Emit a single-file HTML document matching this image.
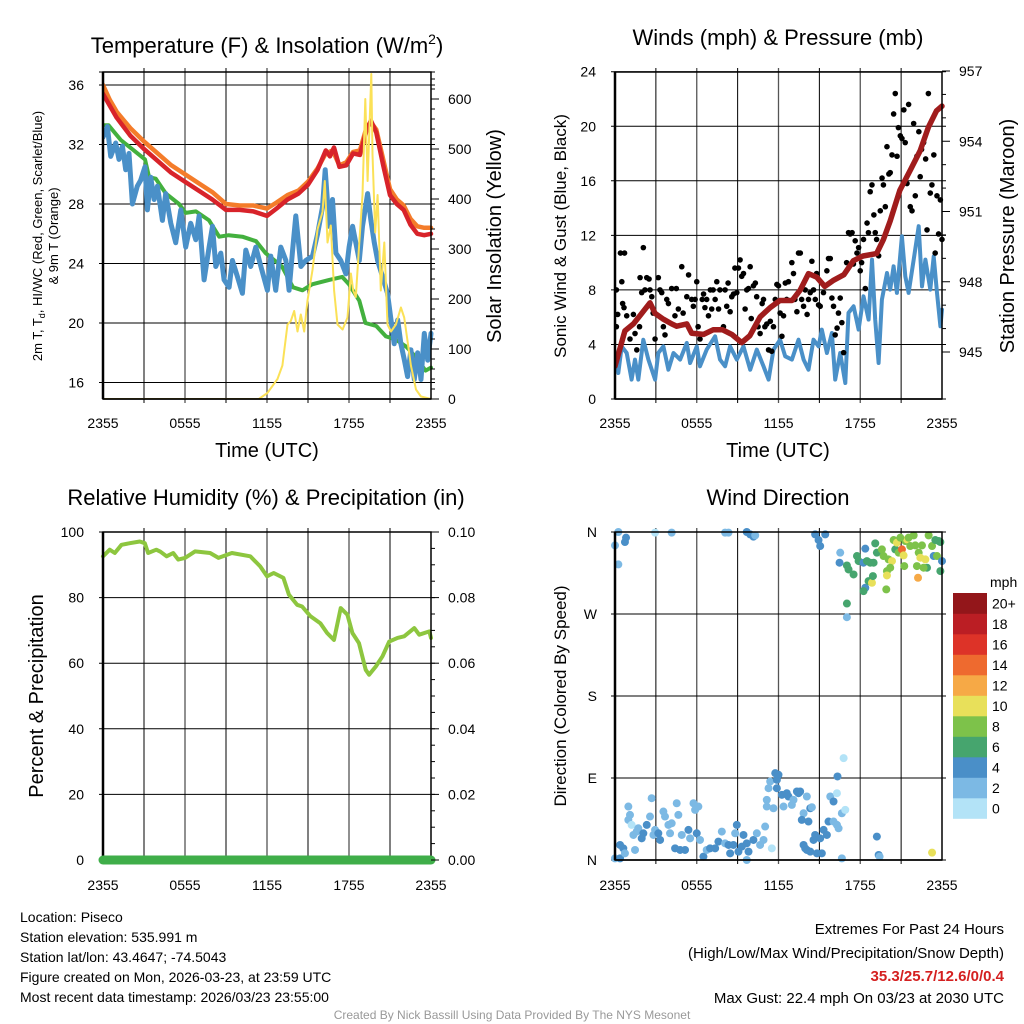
<!DOCTYPE html>
<html><head><meta charset="utf-8"><style>
html,body{margin:0;padding:0;background:#fff;}
svg{display:block;font-family:"Liberation Sans",sans-serif;}
</style></head><body>
<svg id="chart" width="1024" height="1024" viewBox="0 0 1024 1024" xmlns="http://www.w3.org/2000/svg">
<rect x="0" y="0" width="1024" height="1024" fill="#fff"/>
<text x="267" y="53" font-size="22" text-anchor="middle">Temperature (F) &amp; Insolation (W/m<tspan dy="-9" font-size="14">2</tspan><tspan dy="9">)</tspan></text>
<text x="778" y="45" font-size="22" text-anchor="middle">Winds (mph) &amp; Pressure (mb)</text>
<text x="266" y="505" font-size="22" text-anchor="middle">Relative Humidity (%) &amp; Precipitation (in)</text>
<text x="778" y="505" font-size="22" text-anchor="middle">Wind Direction</text>
<text transform="translate(42,236) rotate(-90)" font-size="13" text-anchor="middle">2m T, T<tspan font-size="9" dy="3">d</tspan><tspan dy="-3">, HI/WC (Red, Green, Scarlet/Blue)</tspan></text>
<text transform="translate(58,236) rotate(-90)" font-size="13" text-anchor="middle">&amp; 9m T (Orange)</text>
<text transform="translate(501,236) rotate(-90)" font-size="20" text-anchor="middle">Solar Insolation (Yellow)</text>
<text transform="translate(566,236) rotate(-90)" font-size="17" text-anchor="middle">Sonic Wind &amp; Gust (Blue, Black)</text>
<text transform="translate(1014,236) rotate(-90)" font-size="20" text-anchor="middle">Station Pressure (Maroon)</text>
<text transform="translate(43,696) rotate(-90)" font-size="20" text-anchor="middle">Percent &amp; Precipitation</text>
<text transform="translate(566,696) rotate(-90)" font-size="17" text-anchor="middle">Direction (Colored By Speed)</text>
<text x="267" y="457" font-size="20" text-anchor="middle">Time (UTC)</text>
<text x="778" y="457" font-size="20" text-anchor="middle">Time (UTC)</text>
<g font-size="14">
<text x="20" y="922">Location: Piseco</text>
<text x="20" y="942">Station elevation: 535.991 m</text>
<text x="20" y="962">Station lat/lon: 43.4647; -74.5043</text>
<text x="20" y="982">Figure created on Mon, 2026-03-23, at 23:59 UTC</text>
<text x="20" y="1002">Most recent data timestamp: 2026/03/23 23:55:00</text>
</g>
<g font-size="15" text-anchor="end">
<text x="1004" y="934">Extremes For Past 24 Hours</text>
<text x="1004" y="958">(High/Low/Max Wind/Precipitation/Snow Depth)</text>
<text x="1004" y="981" fill="#d42020" font-weight="bold">35.3/25.7/12.6/0/0.4</text>
<text x="1004" y="1003">Max Gust: 22.4 mph On 03/23 at 2030 UTC</text>
</g>
<text x="512" y="1019" font-size="12" fill="#999" text-anchor="middle">Created By Nick Bassill Using Data Provided By The NYS Mesonet</text>
</svg>
<script>
// ---- Temperature panel data ----
const tOrange = [0,0.5,1,2,3,4,5,6,7,8,9,10,11,12,12.7,13.5,14.3,15,15.7,16.3,16.8,17.3,17.8,18.3,18.8,19.3,19.6,20,20.5,21,21.5,22,22.5,23,23.5,24];
const vOrange = [36,35,34.2,33.1,32.2,31.4,30.6,30,29.4,28.8,28,27.9,27.9,27.7,28.1,28.6,28.9,29.5,30.4,31.4,31.6,30.6,30.8,31.5,31.6,33.2,33.5,33,31,29,28.3,27.9,27,26.5,26.4,26.4];
const tRed = [0,0.5,1,2,3,4,5,6,7,8,9,10,11,12,12.7,13.5,14.3,15,15.7,16.3,16.6,16.9,17.3,17.8,18.3,18.8,19.3,19.6,20,20.5,21,21.5,22,22.5,23,23.5,24];
const vRed = [35.4,34.6,33.8,32.6,31.7,30.9,30.1,29.5,28.9,28.3,27.6,27.6,27.5,27.2,27.7,28.3,28.7,29.3,30.3,31.6,31.2,31.8,30.5,30.6,31.4,31.3,33,33.6,32.8,30.6,28.6,28,27.6,26.6,26,25.9,26];
const tGreen = [0,0.4,1.3,3.07,3.37,3.86,4.6,5.56,6.05,6.8,7.76,8.5,9.2,10.2,11.2,11.9,13.1,13.9,14.6,15.3,16.55,17.5,18,18.75,19.2,20,20.7,21.4,22.2,22.9,23.6,24];
const vGreen = [33.3,33.3,32.3,31,29.8,29.7,28.7,28,27.4,27.5,26.9,25.8,25.9,25.8,25.5,24.7,23.8,22.4,22.2,22.6,22.9,23.1,22.6,21.5,20,19.8,19.1,18.9,18.4,17.7,16.8,17];
const tBlue = [0,0.32,0.56,0.93,1.17,1.42,1.66,1.9,2.15,2.51,2.76,3.07,3.25,3.49,3.74,3.98,4.35,4.59,4.96,5.32,5.69,6.05,6.42,6.79,7.03,7.4,7.76,8.01,8.25,8.62,8.86,9.23,9.47,9.84,10.2,10.45,10.81,11.18,11.55,12.03,12.28,12.64,13.01,13.38,13.62,13.87,14.11,14.48,14.84,15.33,15.7,16.06,16.26,16.55,16.79,17.04,17.4,17.77,18.01,18.26,18.5,18.75,18.99,19.36,19.6,19.85,20.09,20.46,20.82,21.07,21.31,21.56,21.8,22.05,22.29,22.53,22.78,23.02,23.27,23.51,23.76,24];
const vBlue = [32.5,33.2,31.2,32.1,31,31.9,30.3,31.4,28,29.2,29.6,30.5,27.6,29.8,28.3,29.2,26.9,28.7,26.7,25.4,27.6,25.1,26.7,25.6,27.2,22.9,25.1,26.5,23.8,24.7,22.9,22.4,24.2,23.1,22,24.9,23.8,25.1,23.8,22.2,24.5,22.2,25.1,24.2,22.2,24.9,27.2,23.8,24.2,24.5,26,27.8,30.3,26.5,28.3,24.7,24.2,23.3,25.1,26.5,25.4,24.2,26.5,28.7,26.9,25.4,24.2,23.1,22,20.2,18.6,20.2,18.6,17.5,16.4,18.2,16.2,18,16.2,19.3,17.5,19.3];
const tSolar = [0,11.4,12.03,12.77,13.13,13.5,13.74,13.99,14.23,14.47,14.72,14.96,15.33,15.7,16.06,16.23,16.43,16.67,16.91,17.16,17.53,17.89,18.14,18.31,18.5,18.75,18.99,19.19,19.36,19.63,19.72,19.92,20.09,20.33,20.58,20.82,21.07,21.43,21.8,22.04,22.29,22.53,22.9,23.26,24];
const vSolar = [0,0,12,40,67,149,156,176,135,169,135,197,258,340,374,436,313,347,217,149,139,163,251,217,204,313,408,600,436,650,490,333,408,217,313,149,135,149,183,163,115,67,19,5,0];
const tempTicks = [16,20,24,28,32,36];
const solarTicks = [0,100,200,300,400,500,600];
const timeTickHours = [0,6,12,18,24];
const timeTickLabels = ["2355","0555","1155","1755","2355"];
// ---- Wind panel data ----
const tPres = [0,0.73,1.35,1.96,2.57,2.94,3.55,4.16,4.53,5.27,5.63,6.5,7.2,7.9,8.57,9.3,9.9,10.65,11.4,12.1,13,13.6,14.2,14.8,15.4,16,16.8,17.5,18.2,19.2,19.7,20.2,20.9,21.7,22.4,23,23.6,24];
const vPres = [944.4,945.9,946.2,946.65,947.1,946.65,946.4,946.2,946.1,946.2,945.8,945.75,945.95,945.95,945.75,945.4,945.7,946.5,946.9,947.2,947.2,947.65,948.35,948.2,947.8,948.05,948.3,948.9,949.1,949.2,949.8,950.6,951.9,952.8,953.6,954.6,955.3,955.5];
const tWind = [0,0.24,0.49,0.86,1.22,1.47,1.71,2.08,2.45,2.94,3.18,3.55,3.92,4.29,4.78,5.27,5.51,6,6.24,6.73,7.35,7.71,8.08,8.45,8.94,9.43,9.92,10.41,10.9,11.27,11.63,12.12,12.49,12.98,13.47,13.84,14.2,14.57,14.94,15.18,15.55,15.92,16.16,16.53,16.9,17.14,17.51,17.88,18.24,18.61,18.86,19.1,19.35,19.59,19.96,20.2,20.45,20.69,21.06,21.31,21.55,21.92,22.29,22.53,22.78,23.14,23.39,23.63,23.88,24];
const vWind = [3.37,1.91,3.86,3.37,1.42,2.89,1.42,4.35,2.89,1.42,3.37,3.86,2.15,3.37,2.89,4.11,2.64,3.86,2.4,3.62,4.6,2.89,2.4,3.86,2.89,3.86,2.15,3.62,2.4,1.42,3.62,4.35,3.13,2.89,4.35,2.89,2.15,4.35,3.86,5.09,3.37,4.84,1.42,3.37,1.17,6.31,6.8,5.09,7.53,5.82,10.22,5.82,2.64,7.29,9.24,8.02,9.73,7.78,11.93,9,7.78,10.22,12.67,8.26,10.22,8.02,10.46,7.78,5.33,6.55];
const tGust = [0,0.1,0,0.2,0.1,0.4,0.7,0.5,0.56,0.66,0.86,1.1,1.35,1.47,1.6,1.8,1.84,1.96,2.08,2.2,2.33,2.5,2.57,2.7,2.8,2.94,3.18,3.3,3.43,3.55,3.67,3.8,3.92,4.16,4.4,4.5,4.65,4.9,5,5.27,5.4,5.63,5.75,5.88,6,6.1,6.24,6.4,6.5,6.6,6.73,6.86,7,7.1,7.2,7.35,7.47,7.6,7.7,7.96,8.08,8.2,8.3,8.45,8.57,8.7,8.8,8.94,9.06,9.18,9.3,9.43,9.55,9.67,9.8,9.92,10,10.16,10.3,10.4,10.5,10.65,10.8,10.9,11,11.14,11.27,11.4,11.5,11.63,11.76,11.88,12,12.12,12.25,12.37,12.5,12.6,12.73,12.98,13.1,13.2,13.35,13.47,13.6,13.7,13.84,13.96,14.1,14.2,14.33,14.45,14.57,14.7,14.8,14.94,15.06,15.3,15.55,15.67,15.8,15.92,16.04,16.16,16.3,16.4,16.53,16.65,16.78,17,17.14,17.26,17.4,17.5,17.63,17.76,17.88,18,18.1,18.24,18.37,18.5,18.6,18.73,18.86,19,19.1,19.2,19.35,19.47,19.6,19.7,19.84,19.96,20.1,20.2,20.33,20.45,20.57,20.7,20.8,20.94,21.06,21.2,21.3,21.43,21.55,21.67,21.8,21.92,22.04,22.16,22.3,22.4,22.5,22.65,22.8,22.9,23,23.14,23.26,23.4,23.5,23.63,23.75,23.88,24];
const vGust = [8,8,6.2,6.2,5.3,10.7,10.7,8.6,7,6.7,6.1,4.4,6.2,4.8,3.6,5.3,8.9,7.8,11.1,8,8.9,8.8,8,7.5,6.3,4.4,8.9,8,7.8,5.3,4.7,7.3,7,8.1,6.1,8.1,6.6,9.7,6.3,7.5,9.1,7.3,6.8,7.3,8.6,5.3,4.4,7.3,7.7,6.7,7.3,6.1,8,6.6,8,7.3,8.6,6.6,8,5.3,8,6.8,8.5,6.4,7.5,7.7,9.6,7.8,9.6,10.2,9,9.2,6.6,8,8.1,9.7,5.9,8.3,8.5,7.5,5.3,4.8,7,7.3,5.3,5.5,3.6,5.7,3.5,5.3,7.3,8.4,8.3,6.3,4.6,6.1,8.5,7.3,8.6,10,9.2,7.3,6.4,10.7,10.7,7.3,6.8,8,6.2,7.3,7.8,10.1,8,7.3,9.2,6.9,6.8,7.8,9.4,10.3,10.3,7.4,6.8,4.7,5.2,6.3,7.4,5.6,3.4,10,12.2,12.1,12.2,9.9,11.6,10.7,11.1,9.4,10,11.7,8.1,12.9,12.2,15.2,15.7,13.5,12.2,11.7,10.5,13.8,16.2,15.7,14.1,18.5,16.5,16.6,17.9,20.9,22.4,17.8,19.9,19.3,19.1,21.2,18.8,15.8,21.6,14.1,13.8,20.2,14.9,17.8,19.6,16.3,18.3,18.8,17.6,12.4,22.4,15.1,15.7,17.9,10.7,14.9,12.1,14.6,11.7];
const windTicks = [0,4,8,12,16,20,24];
const presTicks = [945,948,951,954,957];
// ---- Humidity panel data ----
const tRH = [0,0.49,0.86,1.35,1.96,2.69,3.06,3.3,3.9,4.2,4.65,5.14,5.5,6,6.73,7.84,8.45,9.43,10.78,11.5,12,12.49,13.2,13.6,14.2,14.57,15.18,15.9,16.4,16.9,17.39,17.88,18.25,18.73,19.22,19.47,19.96,20.45,20.94,21.55,22.04,22.78,23.14,23.88,24];
const vRH = [92.6,94.6,93.6,96.1,96.6,97.1,96.6,93.6,94.6,94,92.6,93.6,91.6,92.1,94.1,93.6,92.1,93.6,92.6,89.5,86.5,87.5,86,80.9,77.8,77.3,74.3,72.2,69.2,67.1,76.8,74.8,69.2,66.1,58,56.5,59,62.1,66.6,67.7,68.2,70.7,68.7,69.7,67.7];
const tPrecip = [0,24];
const vPrecip = [0,0];
const rhTicks = [0,20,40,60,80,100];
const precipTicks = ["0.00","0.02","0.04","0.06","0.08","0.10"];
// ---- Direction panel data ----
const tDir = [0.245,0,0.81,0.73,0.245,2.94,4.16,8.08,8.33,9.67,9.92,10.16,10.29,14.69,15.43,14.94,15.06,16.53,16.48,17.02,17.14,17.51,17.76,17.88,18.24,18.37,18.49,18.73,18.98,19.1,18.37,18.24,18.61,18.86,18.93,17.02,17.02,19.22,19.59,19.71,19.96,19.96,20.08,20.33,20.45,20.57,20.69,20.82,21.06,21.18,21.31,21.43,21.55,21.67,21.92,22.04,22.29,22.41,22.53,22.78,22.9,23.02,23.27,23.39,23.51,23.63,23.76,23.88,24,22.24,19.91,20.2,21.23,22.16,22.65,20.94,23.88,
0,0.37,0.37,0.61,0.73,0.98,1.1,0.98,1.22,1.35,1.47,1.59,1.71,1.96,2.08,2.33,2.57,2.69,2.82,2.94,3.18,3.31,3.55,3.67,3.92,4.04,4.16,4.53,4.65,4.41,4.78,4.9,5.14,5.39,5.51,5.76,5.88,6.12,6,6.24,6.49,6.73,6.98,7.35,7.59,7.84,8.08,8.33,8.45,8.69,8.82,8.94,9.06,9.31,9.43,9.67,9.67,9.8,10.16,10.41,10.65,10.9,11.02,11.14,11.14,11.27,11.39,11.51,11.63,11.76,11.88,12,11.88,12.25,12.37,12.61,12.73,12.98,13.1,13.35,13.47,13.59,13.84,13.71,14.08,14.2,14.33,14.45,14.57,13.84,13.96,14.08,14.33,14.69,14.82,15.06,15.18,15.31,15.55,15.67,15.8,16.04,16.04,16.29,16.41,16.65,16.78,16.29,16.9,16.33,16.65,19.22,19.35,19.42,23.27];
const vDir = [360,345.3,353.8,349,324.4,359.3,359.3,359.3,359.3,360,357.4,354.9,356.3,357.4,357.4,351.2,344.6,337.3,326.3,323.3,318.9,313.4,333.6,328.1,326.3,341.7,328.1,326.3,326.3,347.5,298.8,295.1,306.1,304.3,311.6,281.5,266.5,337.3,340.9,333.6,317.1,312.3,329.9,328.1,351.2,340.9,348.3,337.3,340.9,334.3,350.1,351.9,353.8,344.6,356.3,345.3,337.3,331.8,345.3,329.9,320.8,356.3,344.6,333.6,351.2,333.6,350.1,317.1,328.1,309.8,297,320.8,322.6,322.6,320.8,353.8,349,
1.8,1.8,16.5,12.8,7.3,58.7,49.5,44,38.5,27.5,11,31.2,34.8,23.8,29.3,38.5,47.7,67.8,27.5,33,29.3,22,53.2,47.7,38.5,29.3,40.3,62.3,49.5,12.8,11,27.5,11,33,23.8,62.3,55,58.7,29.3,22,3.7,11,12.8,12.8,20.2,31.2,18.3,16.5,7.3,16.5,29.3,38.5,9.2,14.7,27.5,0,18.3,9.2,22,29.3,16.5,22,36.7,66,58.7,78.8,86.2,12.8,56.8,95.3,88,93.5,78.8,71.5,58.7,73.3,69.7,60.5,66,75.2,73.3,75.2,51.3,44,69.7,42.2,56.8,57.9,22,16.5,12.8,11,9.2,27.5,7.3,23.8,7.3,33,27.5,42.2,69.7,64.2,42.2,38.5,34.8,51.3,111.8,73.3,55,91.7,1.8,25.7,5.5,3.7,8.1];
const sDir = [2.5,2.5,4.5,4.5,2.5,0.5,2.5,2.5,2.5,4.5,4.5,4.5,2.5,4.5,4.5,4.5,4.5,2.5,4.5,6.5,6.5,6.5,6.5,6.5,4.5,4.5,6.5,6.5,6.5,6.5,4.5,6.5,6.5,10.5,6.5,6.5,2.5,6.5,8.5,8.5,8.5,10.5,8.5,10.5,8.5,6.5,10.5,8.5,14.5,10.5,8.5,10.5,8.5,8.5,8.5,8.5,8.5,10.5,8.5,10.5,6.5,8.5,8.5,4.5,6.5,8.5,6.5,6.5,4.5,12.5,8.5,8.5,8.5,8.5,8.5,8.5,6.5,
2.5,4.5,4.5,4.5,2.5,2.5,2.5,2.5,0.5,2.5,2.5,2.5,2.5,4.5,4.5,4.5,2.5,2.5,2.5,2.5,4.5,4.5,2.5,2.5,2.5,2.5,2.5,2.5,2.5,4.5,4.5,2.5,4.5,4.5,2.5,2.5,2.5,2.5,4.5,2.5,4.5,2.5,4.5,4.5,4.5,2.5,2.5,4.5,4.5,4.5,2.5,4.5,4.5,4.5,4.5,2.5,4.5,4.5,4.5,2.5,2.5,2.5,2.5,2.5,2.5,2.5,2.5,0.5,2.5,4.5,4.5,4.5,4.5,4.5,2.5,4.5,4.5,2.5,2.5,4.5,4.5,4.5,2.5,4.5,2.5,4.5,4.5,2.5,4.5,4.5,4.5,4.5,4.5,4.5,4.5,4.5,4.5,4.5,4.5,4.5,2.5,4.5,2.5,2.5,2.5,2.5,0.5,0.5,0.5,4.5,2.5,4.5,4.5,2.5,10.5];
const dirTicks = [0,90,180,270,360];
const dirTickLabels = ["N","E","S","W","N"];
const speedBinLabels = ["0","2","4","6","8","10","12","14","16","18","20+"];
const speedColors = ["#b3e3f7","#7cb9e4","#4a8fc8","#46a56e","#7dc24a","#e8e05a","#f6a946","#ee6a2f","#dd3328","#bb1e24","#93161a"];

const NS = "http://www.w3.org/2000/svg";
const svg = document.getElementById("chart");
function mk(tag, parent, attrs) {
  const e = document.createElementNS(NS, tag);
  for (const k in attrs) e.setAttribute(k, attrs[k]);
  parent.appendChild(e);
  return e;
}
function scale(d0, d1, r0, r1) { return v => r0 + (v - d0) / (d1 - d0) * (r1 - r0); }

function panelFrame(L, R, T, B, name, hLinesY) {
  const g = mk("g", svg, {});
  
  
  const xs = scale(0, 24, L, R);
  for (let h = 3; h < 24; h += 3) {
    const x = xs(h);
    mk("line", g, {x1: x, y1: T - 4, x2: x, y2: B + 4, stroke: (h % 6 === 0) ? "#555" : "#000", "stroke-width": (h % 6 === 0) ? 1.3 : 1});
  }
  hLinesY.forEach(y => mk("line", g, {x1: L - 4, y1: y, x2: R + 4, y2: y, stroke: "#000", "stroke-width": 1}));
  return g;
}
function drawBorder(L, R, T, B, name) {
  const g = mk("g", svg, {});
  
  
  mk("rect", g, {x: L, y: T, width: R - L, height: B - T, fill: "none", stroke: "#000", "stroke-width": 1.5});
  mk("line", g, {x1: L, y1: T, x2: L, y2: B, stroke: "#000", "stroke-width": 2.5});
  mk("line", g, {x1: L, y1: B, x2: R, y2: B, stroke: "#000", "stroke-width": 1.5});
}
function timeLabels(L, R, y, name) {
  const xs = scale(0, 24, L, R);
  const g = mk("g", svg, {"font-size": 14, "text-anchor": "middle"});
  
  
  timeTickHours.forEach((h, i) => { const t = mk("text", g, {x: xs(h), y: y}); t.textContent = timeTickLabels[i]; });
}
function polyline(xs, ys, tArr, vArr, color, w, name, parent) {
  const pts = tArr.map((t, i) => xs(t).toFixed(1) + "," + ys(vArr[i]).toFixed(1)).join(" ");
  const p = mk("polyline", parent || svg, {points: pts, fill: "none", stroke: color, "stroke-width": w, "stroke-linejoin": "round", "stroke-linecap": "round"});
  
  
  return p;
}
function yLabels(arr, ys, x, anchor, name, fmt) {
  const g = mk("g", svg, {"font-size": 14, "text-anchor": anchor});
  
  
  arr.forEach((v, i) => { const t = mk("text", g, {x: x, y: ys(v) + 5}); t.textContent = fmt ? fmt(v, i) : v; });
}

// ---- Panel 1 ----
{
  const L = 103, R = 431, T = 72, B = 399;
  const xs = scale(0, 24, L, R);
  const yT = scale(16, 36, 382.5, 85);
  const yS = scale(0, 600, 399, 99);
  panelFrame(L, R, T, B, "temperature", tempTicks.map(yT).concat([T]));
  const clip = mk("clipPath", svg, {id: "c1"}); mk("rect", clip, {x: L, y: T - 3, width: R - L + 3, height: B - T + 3});
  const g = mk("g", svg, {"clip-path": "url(#c1)"});
  polyline(xs, yT, tGreen, vGreen, "#43b03e", 4, "hi-wc-line", g);
  polyline(xs, yT, tBlue, vBlue, "#4a90c8", 5, "dewpoint-line", g);
  polyline(xs, yT, tOrange, vOrange, "#f47c2a", 4.5, "temp-9m-line", g);
  polyline(xs, yT, tRed, vRed, "#d8232a", 4.5, "temp-2m-line", g);
  polyline(xs, yS, tSolar, vSolar, "#fbe157", 2, "solar-line", g);
  drawBorder(L, R, T, B, "temperature");
  const tk = mk("g", svg, {stroke: "#000"});
  
  
  for (let v = 0; v <= 650; v += 20) mk("line", tk, {x1: R, y1: yS(v), x2: R + (v % 100 === 0 ? 8 : 4), y2: yS(v)});
  yLabels(tempTicks, yT, 84, "end", "temp-y-tick-labels");
  yLabels(solarTicks, yS, 448, "start", "solar-y-tick-labels");
  timeLabels(L, R, 428, "temperature");
}
// ---- Panel 2 ----
{
  const L = 615, R = 942, T = 72, B = 399;
  const xs = scale(0, 24, L, R);
  const yW = scale(0, 24, 399, 71.7);
  const yP = scale(945, 957, 352, 71);
  panelFrame(L, R, T, B, "winds", windTicks.map(yW));
  const clip = mk("clipPath", svg, {id: "c2"}); mk("rect", clip, {x: L, y: T - 5, width: R - L + 5, height: B - T + 5});
  const g = mk("g", svg, {"clip-path": "url(#c2)"});
  polyline(xs, yW, tWind, vWind, "#4a90c8", 4, "wind-speed-line", g);
  const gg = mk("g", g, {fill: "#000"});
  
  
  tGust.forEach((t, i) => {
    const c = mk("circle", gg, {cx: xs(t), cy: yW(vGust[i]), r: 2.8});
    
    
  });
  polyline(xs, yP, tPres, vPres, "#a01c1c", 5.5, "pressure-line", g);
  drawBorder(L, R, T, B, "winds");
  const tk = mk("g", svg, {stroke: "#000"});
  
  
  for (let v = 945; v <= 957; v += 1) mk("line", tk, {x1: R, y1: yP(v), x2: R + ((v % 3 === 0) ? 8 : 4), y2: yP(v)});
  yLabels(windTicks, yW, 596, "end", "wind-y-tick-labels");
  yLabels(presTicks, yP, 959, "start", "pressure-y-tick-labels");
  timeLabels(L, R, 428, "winds");
}
// ---- Panel 3 ----
{
  const L = 103, R = 431, T = 532, B = 860;
  const xs = scale(0, 24, L, R);
  const yR = scale(0, 100, 860, 532);
  panelFrame(L, R, T, B, "humidity", rhTicks.map(yR));
  polyline(xs, yR, tRH, vRH, "#8dc63f", 4, "rh-line");
  drawBorder(L, R, T, B, "humidity");
  polyline(xs, yR, tPrecip, vPrecip, "#3fae49", 9, "precip-line");
  const tk = mk("g", svg, {stroke: "#000"});
  
  
  for (let v = 0; v <= 100; v += 5) mk("line", tk, {x1: R, y1: yR(v), x2: R + ((v % 20 === 0) ? 8 : 4), y2: yR(v)});
  yLabels(rhTicks, yR, 84, "end", "rh-y-tick-labels");
  yLabels(rhTicks, yR, 448, "start", "precip-y-tick-labels", (v, i) => precipTicks[i]);
  timeLabels(L, R, 890, "humidity");
}
// ---- Panel 4 ----
{
  const L = 615, R = 942, T = 532, B = 860;
  const xs = scale(0, 24, L, R);
  const yD = scale(0, 360, 860, 532);
  panelFrame(L, R, T, B, "direction", dirTicks.map(yD));
  const g = mk("g", svg, {});
  
  
  tDir.forEach((t, i) => {
    const bin = Math.min(10, Math.floor(sDir[i] / 2));
    const c = mk("circle", g, {cx: xs(t), cy: yD(vDir[i]), r: 4, fill: speedColors[bin]});
    
    
  });
  drawBorder(L, R, T, B, "direction");
  yLabels(dirTicks, yD, 597, "end", "direction-y-tick-labels", (v, i) => dirTickLabels[i]);
  timeLabels(L, R, 890, "direction");
  const cb = mk("g", svg, {});
  
  
  const top = 593, bh = 20.5;
  speedColors.forEach((col, i) => {
    const y = top + (10 - i) * bh;
    const r = mk("rect", cb, {x: 953, y: y, width: 34, height: bh + 0.3, fill: col});
    
    
    const t = mk("text", cb, {x: 992, y: y + bh / 2 + 5, "font-size": 14});
    t.textContent = speedBinLabels[i];
  });
  const mt = mk("text", cb, {x: 990, y: 587, "font-size": 14});
  mt.textContent = "mph";
}
</script>
</body></html>
